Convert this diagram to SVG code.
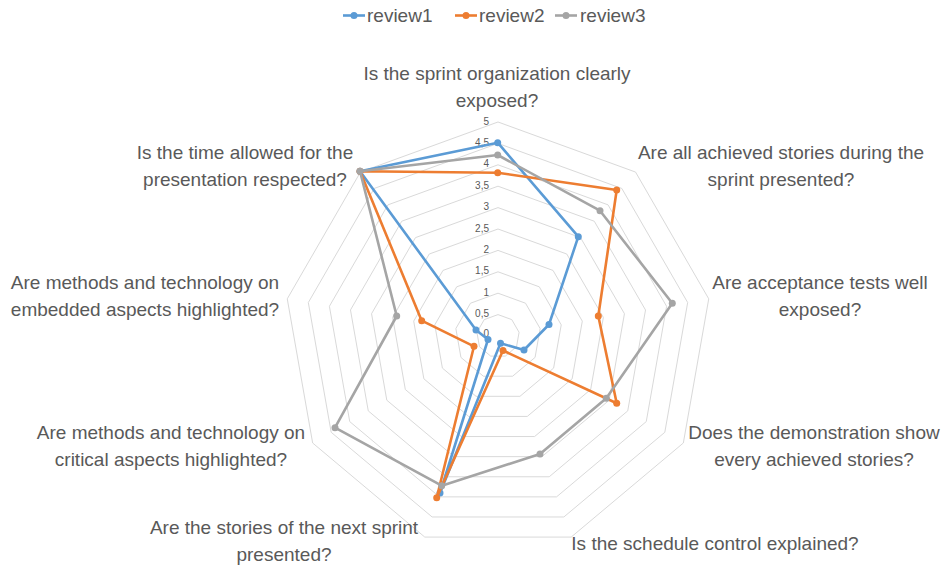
<svg xmlns="http://www.w3.org/2000/svg" xmlns:xlink="http://www.w3.org/1999/xlink" width="943" height="566" viewBox="0 0 943 566">
<style>
.ring{fill:none;stroke:#d9d9d9;stroke-width:1;vector-effect:non-scaling-stroke}
.tick{font-family:"Liberation Sans",Arial,sans-serif;font-size:10px;fill:#595959;text-anchor:end}
.cat{font-family:"Liberation Sans",Arial,sans-serif;font-size:19px;fill:#595959;text-anchor:middle}
.leg{font-family:"Liberation Sans",Arial,sans-serif;font-size:19px;fill:#595959}
.s1{fill:none;stroke:#5B9BD5;stroke-width:2.6;stroke-linejoin:round}
.s2{fill:none;stroke:#ED7D31;stroke-width:2.6;stroke-linejoin:round}
.s3{fill:none;stroke:#A5A5A5;stroke-width:2.6;stroke-linejoin:round}
.m1{fill:#5B9BD5}.m2{fill:#ED7D31}.m3{fill:#A5A5A5}
</style>
<defs>
<polygon id="ng" class="ring" points="0,-100 64.279,-76.604 98.481,-17.365 86.603,50 34.202,93.969 -34.202,93.969 -86.603,50 -98.481,-17.365 -64.279,-76.604"/>
</defs>
<rect width="943" height="566" fill="#ffffff"/>
<g id="grid">
<use xlink:href="#ng" transform="translate(498,336) scale(0.214)"/>
<use xlink:href="#ng" transform="translate(498,336) scale(0.428)"/>
<use xlink:href="#ng" transform="translate(498,336) scale(0.642)"/>
<use xlink:href="#ng" transform="translate(498,336) scale(0.856)"/>
<use xlink:href="#ng" transform="translate(498,336) scale(1.07)"/>
<use xlink:href="#ng" transform="translate(498,336) scale(1.284)"/>
<use xlink:href="#ng" transform="translate(498,336) scale(1.498)"/>
<use xlink:href="#ng" transform="translate(498,336) scale(1.712)"/>
<use xlink:href="#ng" transform="translate(498,336) scale(1.926)"/>
<use xlink:href="#ng" transform="translate(498,336) scale(2.14)"/>
</g>
<g id="ticks">
<text class="tick" x="489" y="124.5">5</text>
<text class="tick" x="489" y="145.9">4,5</text>
<text class="tick" x="489" y="167.3">4</text>
<text class="tick" x="489" y="188.7">3,5</text>
<text class="tick" x="489" y="210.1">3</text>
<text class="tick" x="489" y="231.5">2,5</text>
<text class="tick" x="489" y="252.9">2</text>
<text class="tick" x="489" y="274.3">1,5</text>
<text class="tick" x="489" y="295.7">1</text>
<text class="tick" x="489" y="317.1">0,5</text>
<text class="tick" x="489" y="336.5">0</text>
</g>
<g id="labels">
<g id="cat-sprint-org"><text class="cat" x="497" y="80">Is the sprint organization clearly</text><text class="cat" x="497" y="107">exposed?</text></g>
<g id="cat-achieved"><text class="cat" x="781" y="159">Are all achieved stories during the</text><text class="cat" x="781" y="186">sprint presented?</text></g>
<g id="cat-acceptance"><text class="cat" x="820" y="289">Are acceptance tests well</text><text class="cat" x="820" y="316">exposed?</text></g>
<g id="cat-demo"><text class="cat" x="814" y="439">Does the demonstration show</text><text class="cat" x="814" y="466">every achieved stories?</text></g>
<g id="cat-schedule"><text class="cat" x="715" y="550">Is the schedule control explained?</text></g>
<g id="cat-next"><text class="cat" x="284" y="534">Are the stories of the next sprint</text><text class="cat" x="284" y="561">presented?</text></g>
<g id="cat-critical"><text class="cat" x="171" y="439">Are methods and technology on</text><text class="cat" x="171" y="466">critical aspects highlighted?</text></g>
<g id="cat-embedded"><text class="cat" x="145" y="289">Are methods and technology on</text><text class="cat" x="145" y="316">embedded aspects highlighted?</text></g>
<g id="cat-time"><text class="cat" x="245" y="159">Is the time allowed for the</text><text class="cat" x="245" y="186">presentation respected?</text></g>
</g>
<g id="series">
<g id="review1">
<polygon class="s1" points="497.7,142.7 578.3,236.7 549,324.5 524,350 500.5,343.3 440,493 488,339.5 476,330 360,171.3"/>
<g class="m1"><circle cx="497.7" cy="142.7" r="3.5"/><circle cx="578.3" cy="236.7" r="3.5"/><circle cx="549" cy="324.5" r="3.5"/><circle cx="524" cy="350" r="3.5"/><circle cx="500.5" cy="343.3" r="3.5"/><circle cx="440" cy="493" r="3.5"/><circle cx="488" cy="339.5" r="3.5"/><circle cx="476" cy="330" r="3.5"/><circle cx="360" cy="171.3" r="3.5"/></g>
</g>
<g id="review2">
<polygon class="s2" points="497.7,172.7 616.7,190 598.3,316 616.7,403.3 503,350.5 436.7,497.7 474,346.3 421.7,320.7 360,171.3"/>
<g class="m2"><circle cx="497.7" cy="172.7" r="3.5"/><circle cx="616.7" cy="190" r="3.5"/><circle cx="598.3" cy="316" r="3.5"/><circle cx="616.7" cy="403.3" r="3.5"/><circle cx="503" cy="350.5" r="3.5"/><circle cx="436.7" cy="497.7" r="3.5"/><circle cx="474" cy="346.3" r="3.5"/><circle cx="421.7" cy="320.7" r="3.5"/><circle cx="360" cy="171.3" r="3.5"/></g>
</g>
<g id="review3">
<polygon class="s3" points="497.7,155 600,210.7 672.3,303.3 606.3,398.2 540,454 441.7,485.7 335,427.7 396.7,316 360,171.3"/>
<g class="m3"><circle cx="497.7" cy="155" r="3.5"/><circle cx="600" cy="210.7" r="3.5"/><circle cx="672.3" cy="303.3" r="3.5"/><circle cx="606.3" cy="398.2" r="3.5"/><circle cx="540" cy="454" r="3.5"/><circle cx="441.7" cy="485.7" r="3.5"/><circle cx="335" cy="427.7" r="3.5"/><circle cx="396.7" cy="316" r="3.5"/><circle cx="360" cy="171.3" r="3.5"/></g>
</g>
</g>
<g id="legend">
<g id="leg-review1"><line x1="343" y1="15.5" x2="365" y2="15.5" class="s1"/><circle cx="354" cy="15.5" r="3.5" class="m1"/><text class="leg" x="367" y="22">review1</text></g>
<g id="leg-review2"><line x1="455" y1="15.5" x2="477" y2="15.5" class="s2"/><circle cx="466" cy="15.5" r="3.5" class="m2"/><text class="leg" x="479" y="22">review2</text></g>
<g id="leg-review3"><line x1="555" y1="15.5" x2="577" y2="15.5" class="s3"/><circle cx="566" cy="15.5" r="3.5" class="m3"/><text class="leg" x="580" y="22">review3</text></g>
</g>
</svg>
